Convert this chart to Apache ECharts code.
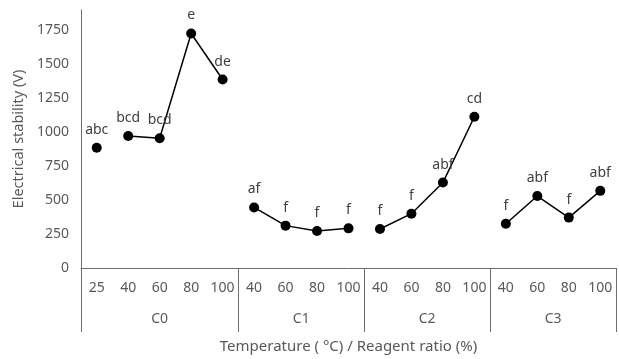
<!DOCTYPE html>
<html>
<head>
<meta charset="utf-8">
<script src="https://cdn.jsdelivr.net/npm/echarts@6/dist/echarts.min.js"></script>
<style>
  html, body { margin: 0; padding: 0; background: #fff; }
  #chart { width: 619px; height: 359px; }
</style>
</head>
<body>
<div id="chart"></div>
<script>
// temperature / reagent ratio under each group
var categories = ["25", "40", "60", "80", "100", "40", "60", "80", "100", "40", "60", "80", "100", "40", "60", "80", "100"];
var groups = ["C0", "C1", "C2", "C3"];
var groupSizes = [5, 4, 4, 4];
// electrical stability (V)
var values = [886, 972, 956, 1727, 1388, 446, 312, 273, 292, 287, 400, 629, 1114, 326, 530, 371, 568];
// significance letters
var letters = ["abc", "bcd", "bcd", "e", "de", "af", "f", "f", "f", "f", "f", "abf", "cd", "f", "abf", "f", "abf"];
// where each connected line starts (25 of C0 stands alone)
var segmentStarts = [0, 1, 5, 9, 13];
var yTicks = [0, 250, 500, 750, 1000, 1250, 1500, 1750];

var font = "Noto Sans";
var textColor = "#595959";
var lineColor = "#6e6e6e";

// second axis: half-category slots, so group names and separators fall on slots
var slots = categories.length * 2 + 1;
var groupAxisData = [];
for (var i = 0; i < slots; i++) groupAxisData.push("");
var boundaries = [0];
var pos = 0;
for (var g = 0; g < groups.length; g++) {
  groupAxisData[pos * 2 + groupSizes[g]] = groups[g];
  pos += groupSizes[g];
  boundaries.push(pos * 2);
}

var series = [];
for (var s = 0; s < segmentStarts.length; s++) {
  var from = segmentStarts[s];
  var to = s + 1 < segmentStarts.length ? segmentStarts[s + 1] : values.length;
  var d = [];
  for (var k = 0; k < values.length; k++) {
    d.push(k >= from && k < to ? values[k] : "-");
  }
  series.push({
    type: "line",
    xAxisIndex: 0,
    data: d,
    symbol: "circle",
    symbolSize: 10,
    itemStyle: { color: "#000" },
    lineStyle: { color: "#000", width: 1.5 },
    label: {
      show: true,
      position: "top",
      distance: 6,
      fontFamily: font,
      fontSize: 14,
      color: "#404040",
      formatter: function (p) { return letters[p.dataIndex]; }
    },
    animation: false
  });
}

var chart = echarts.init(document.getElementById("chart"));
chart.setOption({
  grid: { left: 81, right: 2, top: 10, bottom: 86 },
  xAxis: [
    {
      type: "category",
      data: categories,
      axisLine: { show: true, lineStyle: { color: lineColor, width: 1 } },
      axisTick: { show: false },
      axisLabel: { interval: 0, margin: 13, fontFamily: font, fontSize: 14, color: textColor },
      name: "Temperature ( °C) / Reagent ratio (%)",
      nameLocation: "middle",
      nameGap: 71,
      nameTextStyle: { fontFamily: font, fontSize: 15, color: textColor }
    },
    {
      type: "category",
      position: "bottom",
      data: groupAxisData,
      boundaryGap: false,
      axisLine: { show: false },
      axisTick: {
        show: true,
        length: 64,
        interval: function (index) { return boundaries.indexOf(index) >= 0; },
        lineStyle: { color: lineColor, width: 1 }
      },
      axisLabel: { interval: 0, margin: 44, fontFamily: font, fontSize: 14, color: textColor }
    }
  ],
  yAxis: {
    type: "value",
    min: 0,
    max: 1900,
    interval: 250,
    axisLine: { show: true, lineStyle: { color: lineColor, width: 1 } },
    axisTick: { show: false },
    splitLine: { show: false },
    axisLabel: {
      showMaxLabel: false,
      margin: 12,
      fontFamily: font,
      fontSize: 14,
      color: textColor,
      formatter: function (v) { return yTicks.indexOf(v) >= 0 ? String(v) : ""; }
    },
    name: "Electrical stability (V)",
    nameLocation: "middle",
    nameGap: 55,
    nameRotate: 90,
    nameTextStyle: { fontFamily: font, fontSize: 14.5, color: textColor }
  },
  series: series
});
</script>
</body>
</html>
